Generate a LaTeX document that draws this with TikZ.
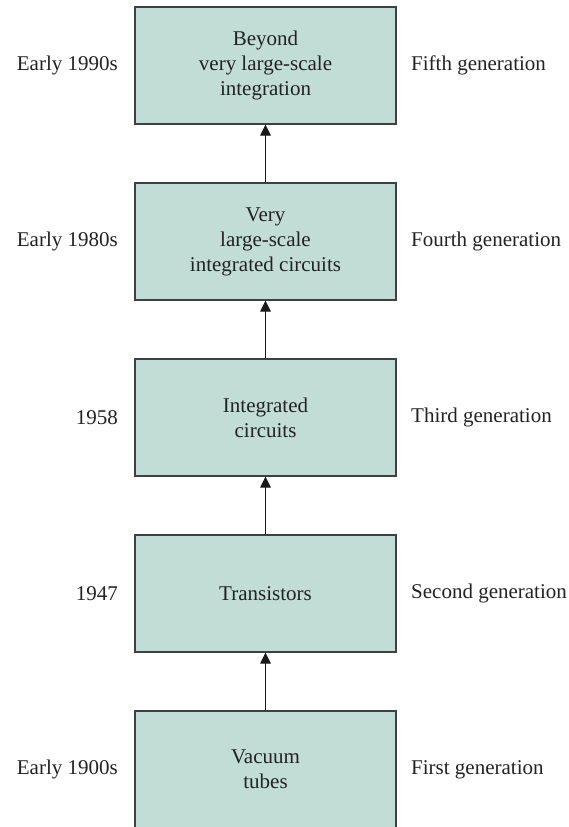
\documentclass[tikz,border=0pt]{standalone}
\usepackage{fontspec}
\setmainfont{Liberation Serif}
\usetikzlibrary{arrows.meta}
\definecolor{boxfill}{HTML}{C2DDD6}
\definecolor{boxline}{HTML}{404040}
\definecolor{arrowcol}{HTML}{1A1A1A}
\definecolor{txt}{HTML}{222222}
\begin{document}
\begin{tikzpicture}[x=1pt,y=1pt,
  genbox/.style={draw=boxline,line width=1.1pt,fill=boxfill,minimum width=261pt,minimum height=117pt,align=center,inner sep=0pt,text=txt,font=\fontsize{21}{25}\selectfont},
  leftlbl/.style={anchor=east,text=txt,inner sep=0pt,font=\fontsize{21}{25}\selectfont},
  rightlbl/.style={anchor=west,text=txt,inner sep=0pt,font=\fontsize{21}{25}\selectfont},
  uparrow/.style={draw=arrowcol,line width=1.1pt,-{Triangle[length=11pt,width=10.5pt]}}]
\useasboundingbox (0,0) rectangle (569,-827);
\clip (0,0) rectangle (569,-827);
\node[genbox] (b5) at (265.5,-65.5) {Beyond\\very large-scale\\integration};
\node[genbox] (b4) at (265.5,-241.5) {Very\\large-scale\\integrated circuits};
\node[genbox] (b3) at (265.5,-417.5) {Integrated\\circuits};
\node[genbox] (b2) at (265.5,-593.5) {Transistors};
\node[genbox] (b1) at (265.5,-769.5) {Vacuum\\tubes};
\node[leftlbl] (l5) at (118,-65.5) {Early 1990s};
\node[leftlbl] (l4) at (118,-241.5) {Early 1980s};
\node[leftlbl] (l3) at (118,-417.5) {1958};
\node[leftlbl] (l2) at (118,-593.5) {1947};
\node[leftlbl] (l1) at (118,-769.5) {Early 1900s};
\node[rightlbl] (r5) at (411,-65.5) {Fifth generation};
\node[rightlbl] (r4) at (411,-241.5) {Fourth generation};
\node[rightlbl] (r3) at (411,-417.5) {Third generation};
\node[rightlbl] (r2) at (411,-593.5) {Second generation};
\node[rightlbl] (r1) at (411,-769.5) {First generation};
\draw[uparrow] (b1.north) -- (b2.south);
\draw[uparrow] (b2.north) -- (b3.south);
\draw[uparrow] (b3.north) -- (b4.south);
\draw[uparrow] (b4.north) -- (b5.south);
\end{tikzpicture}
\end{document}
